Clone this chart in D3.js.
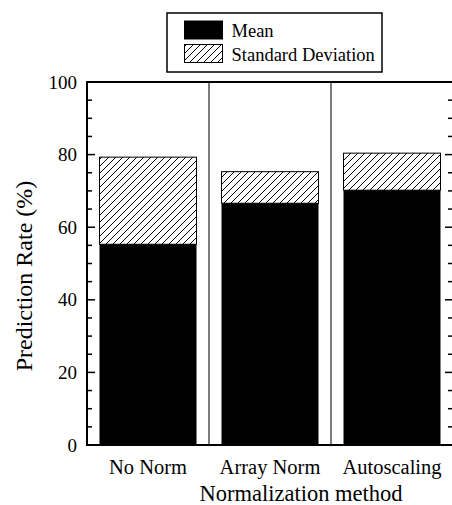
<!DOCTYPE html>
<html>
<head>
<meta charset="utf-8">
<script src="https://cdn.jsdelivr.net/npm/d3@7/dist/d3.min.js"></script>
<style>
  html, body { margin: 0; padding: 0; background: #fff; }
  svg { display: block; }
</style>
</head>
<body>
<svg id="chart" width="452" height="505"></svg>
<script>
// Prediction rate per normalization method
const categories = ["No Norm", "Array Norm", "Autoscaling"];
const meanValues = [55.3, 66.6, 70.2];
const sdValues = [24.0, 8.7, 10.2];
const yTickValues = [0, 20, 40, 60, 80, 100];
const legendLabels = ["Mean", "Standard Deviation"];

const serif = "'Liberation Serif', 'DejaVu Serif', Tinos, 'Nimbus Roman', FreeSerif, 'Noto Serif', 'Times New Roman', Times, serif";

const svg = d3.select("#chart").attr("font-family", serif);
const margin = { left: 87, top: 82 };
const plotW = 366, plotH = 363;

const x = d3.scaleBand()
  .domain(categories)
  .range([margin.left, margin.left + plotW])
  .paddingInner(0.205)
  .paddingOuter(0.1025);

const y = d3.scaleLinear().domain([0, 100]).range([margin.top + plotH, margin.top]);

// forward-slash hatch for the standard deviation segment
const defs = svg.append("defs");
const hs = 7;
const pat = defs.append("pattern")
  .attr("id", "hatch")
  .attr("patternUnits", "userSpaceOnUse")
  .attr("width", hs).attr("height", hs);
pat.append("rect").attr("width", hs).attr("height", hs).attr("fill", "#fff");
pat.append("path")
  .attr("d", `M-1,1 L1,-1 M0,${hs} L${hs},0 M${hs - 1},${hs + 1} L${hs + 1},${hs - 1}`)
  .attr("stroke", "#000").attr("stroke-width", 1);

const data = categories.map((c, i) => ({ c, mean: meanValues[i], sd: sdValues[i] }));

// separators between methods
const step = x.step();
categories.slice(1).forEach(c => {
  const sx = x(c) - (step - x.bandwidth()) / 2;
  svg.append("line")
    .attr("x1", sx).attr("x2", sx)
    .attr("y1", y(100)).attr("y2", y(0))
    .attr("stroke", "#333").attr("stroke-width", 1.3);
});

// standard deviation segment (stacked on the mean)
svg.selectAll("rect.sd").data(data).enter().append("rect")
  .attr("class", "sd")
  .attr("x", d => x(d.c))
  .attr("width", x.bandwidth())
  .attr("y", d => y(d.mean + d.sd))
  .attr("height", d => y(d.mean) - y(d.mean + d.sd))
  .attr("fill", "url(#hatch)")
  .attr("stroke", "#000").attr("stroke-width", 1);

// mean segment
svg.selectAll("rect.mean").data(data).enter().append("rect")
  .attr("class", "mean")
  .attr("x", d => x(d.c))
  .attr("width", x.bandwidth())
  .attr("y", d => y(d.mean))
  .attr("height", d => y(0) - y(d.mean))
  .attr("fill", "#000");

// left axis
const minorTicks = d3.range(0, 101, 5);
const leftAxis = svg.append("g").attr("transform", `translate(${margin.left},0)`);
leftAxis.selectAll("line.tick").data(minorTicks).enter().append("line")
  .attr("x1", 0).attr("x2", d => d % 20 === 0 ? 8 : 5)
  .attr("y1", d => y(d)).attr("y2", d => y(d))
  .attr("stroke", "#000").attr("stroke-width", 1.5);
leftAxis.selectAll("text").data(yTickValues).enter().append("text")
  .attr("x", -10).attr("y", d => y(d))
  .attr("dy", "0.35em")
  .attr("text-anchor", "end")
  .attr("font-size", 19)
  .text(d => d);

// right axis ticks (pointing inward)
const rightX = margin.left + plotW;
svg.selectAll("line.rtick").data(minorTicks).enter().append("line")
  .attr("x1", rightX).attr("x2", d => rightX - (d % 20 === 0 ? 8 : 5))
  .attr("y1", d => y(d)).attr("y2", d => y(d))
  .attr("stroke", "#000").attr("stroke-width", 1.5);

// frame
svg.append("rect")
  .attr("x", margin.left).attr("y", margin.top)
  .attr("width", plotW).attr("height", plotH)
  .attr("fill", "none").attr("stroke", "#000").attr("stroke-width", 2);

// category labels
svg.selectAll("text.cat").data(categories).enter().append("text")
  .attr("class", "cat")
  .attr("x", d => x(d) + x.bandwidth() / 2)
  .attr("y", 474)
  .attr("text-anchor", "middle")
  .attr("font-size", 20.5)
  .text(d => d);

// axis titles
svg.append("text")
  .attr("x", 301).attr("y", 501)
  .attr("text-anchor", "middle")
  .attr("font-size", 22.5)
  .text("Normalization method");

svg.append("text")
  .attr("transform", "translate(32,276) rotate(-90)")
  .attr("text-anchor", "middle")
  .attr("font-size", 24)
  .text("Prediction Rate (%)");

// legend
const lg = svg.append("g");
lg.append("rect")
  .attr("x", 167).attr("y", 13).attr("width", 215).attr("height", 59)
  .attr("fill", "#fff").attr("stroke", "#000").attr("stroke-width", 1.5);
const fills = ["#000", "url(#hatch)"];
legendLabels.forEach((lab, i) => {
  lg.append("rect")
    .attr("x", 184.5).attr("y", 21 + i * 23.5)
    .attr("width", 38).attr("height", 18)
    .attr("fill", fills[i]).attr("stroke", "#000").attr("stroke-width", 1);
  lg.append("text")
    .attr("x", 231.5).attr("y", 36.5 + i * 24)
    .attr("font-size", 18.5)
    .text(lab);
});
</script>
</body>
</html>
